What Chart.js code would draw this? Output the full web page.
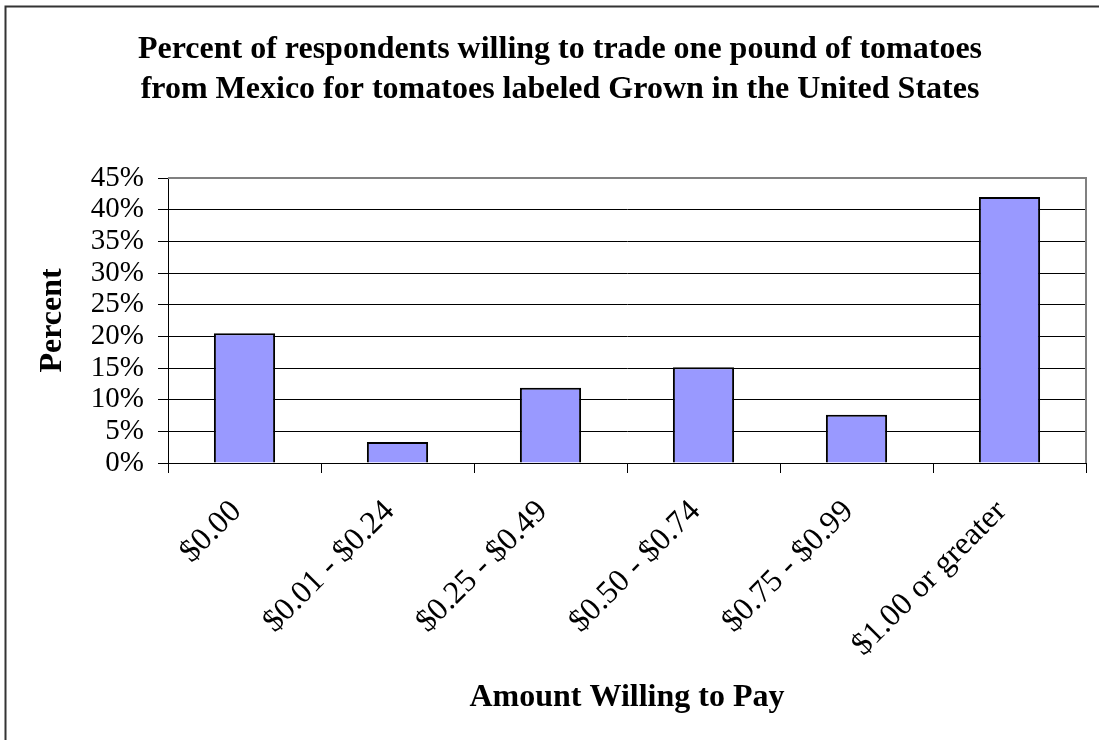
<!DOCTYPE html>
<html>
<head>
<meta charset="utf-8">
<script src="https://cdn.jsdelivr.net/npm/chart.js@4.4.1/dist/chart.umd.min.js"></script>
<style>
  html, body { margin: 0; padding: 0; background: #fff; }
  #wrap { width: 1099px; height: 740px; }
</style>
</head>
<body>
<div id="wrap"><canvas id="chart" width="1099" height="740"></canvas></div>
<script>
// donnees
const categories = ['$0.00', '$0.01 - $0.24', '$0.25 - $0.49', '$0.50 - $0.74', '$0.75 - $0.99', '$1.00 or greater'];
const percents = [20.5, 3.3, 11.9, 15.1, 7.6, 42.0];
const titleLines = ['Percent of respondents willing to trade one pound of tomatoes',
                    'from Mexico for tomatoes labeled Grown in the United States'];

const serif = "'Liberation Serif', 'Times New Roman', serif";

// cadre exterieur + bordure grise du graphique
const framePlugin = {
    id: 'frame',
    beforeDraw(chart) {
        const ctx = chart.ctx;
        ctx.save();
        ctx.fillStyle = '#fff';
        ctx.fillRect(0, 0, chart.width, chart.height);
        ctx.strokeStyle = '#333';
        ctx.lineWidth = 2;
        ctx.beginPath();
        ctx.moveTo(5.5, chart.height);
        ctx.lineTo(5.5, 6.5);
        ctx.lineTo(chart.width, 6.5);
        ctx.stroke();
        ctx.restore();
    },
    afterDatasetsDraw(chart) {
        const a = chart.chartArea;
        const ctx = chart.ctx;
        ctx.save();
        ctx.strokeStyle = '#808080';
        ctx.lineWidth = 2;
        ctx.beginPath();
        ctx.moveTo(a.left, a.top);
        ctx.lineTo(a.right, a.top);
        ctx.lineTo(a.right, a.bottom);
        ctx.stroke();
        ctx.restore();
    }
};

new Chart(document.getElementById('chart'), {
    type: 'bar',
    data: {
        labels: categories,
        datasets: [{
            label: 'Percent',
            data: percents,
            backgroundColor: '#9999ff',
            borderColor: '#000',
            borderWidth: 2,
            barPercentage: 0.4,
            categoryPercentage: 1
        }]
    },
    options: {
        responsive: false,
        animation: false,
        layout: { padding: { left: 34, right: 13, top: 30, bottom: 23 } },
        plugins: {
            legend: { display: false },
            tooltip: { enabled: false },
            title: {
                display: true,
                text: titleLines,
                color: '#000',
                font: { family: serif, size: 32, weight: 'bold', lineHeight: 1.25 },
                padding: { top: 0, bottom: 68 }
            }
        },
        scales: {
            y: {
                min: 0,
                max: 45,
                ticks: {
                    stepSize: 5,
                    autoSkip: false,
                    color: '#000',
                    padding: 14,
                    font: { family: serif, size: 29 },
                    callback: v => v + '%'
                },
                grid: { color: '#000', lineWidth: 1, tickLength: 10 },
                border: { color: '#000', width: 1 },
                title: {
                    display: true,
                    text: 'Percent',
                    color: '#000',
                    font: { family: serif, size: 32, weight: 'bold' },
                    padding: 0
                },
                afterFit: s => { s.width = 134; }
            },
            x: {
                ticks: {
                    color: '#000',
                    minRotation: 45,
                    maxRotation: 45,
                    padding: 20,
                    labelOffset: -8,
                    font: { family: serif, size: 32 }
                },
                grid: { offset: true, drawOnChartArea: false, color: '#000', tickLength: 10 },
                border: { color: '#000', width: 1 },
                title: {
                    display: true,
                    text: 'Amount Willing to Pay',
                    color: '#000',
                    font: { family: serif, size: 32, weight: 'bold' },
                    padding: 0
                },
                afterFit: s => { s.height = 254; }
            }
        }
    },
    plugins: [framePlugin]
});
</script>
</body>
</html>
